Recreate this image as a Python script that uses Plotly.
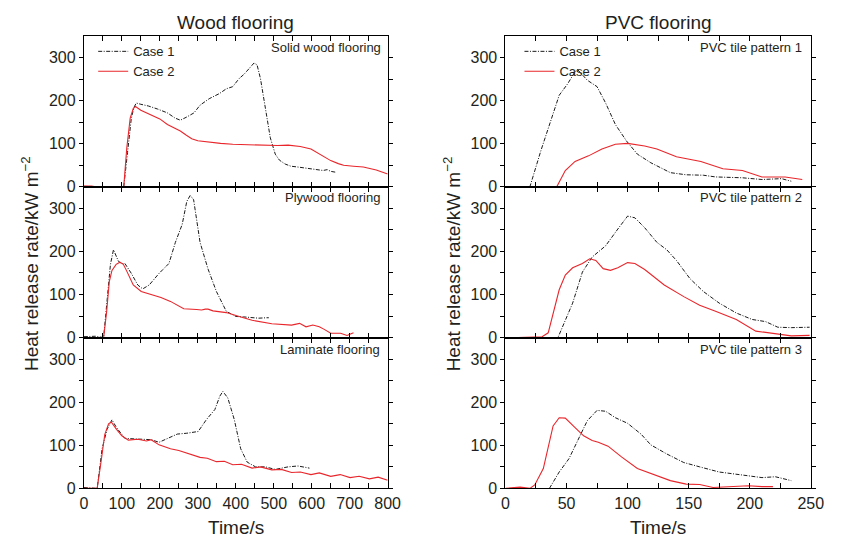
import plotly.graph_objects as go

# ---------------- data ----------------
# Wood flooring (time in s, HRR in kW m^-2)
solid_c1_t = [0, 20, 50, 80, 100, 105, 115, 125, 132, 138, 150, 170, 194, 220, 240, 254, 270, 290, 306, 330, 357, 375, 392, 409, 422, 435, 448, 456, 465, 478, 491, 504, 515, 530, 545, 564, 590, 615, 630, 641, 650, 663]
solid_c1_v = [1, 1, 0, 0, 0, 0, 80, 160, 185, 195, 192, 188, 181, 172, 160, 155, 162, 172, 190, 205, 217, 228, 233, 252, 262, 275, 288, 284, 252, 183, 114, 76, 62, 53, 48, 46, 43, 40, 38, 40, 36, 34]
solid_c2_t = [0, 20, 30, 60, 100, 105, 113, 122, 130, 136, 150, 177, 200, 220, 240, 254, 270, 284, 300, 332, 360, 392, 430, 478, 510, 538, 570, 598, 620, 650, 670, 684, 710, 736, 770, 800]
solid_c2_v = [2, 2, 0, 0, 0, 0, 90, 160, 182, 187, 178, 168, 158, 145, 137, 130, 120, 112, 107, 103, 101, 99, 98, 97, 96, 97, 94, 88, 77, 61, 54, 50, 48, 46, 39, 30]

ply_c1_t = [0, 30, 52, 60, 70, 78, 91, 100, 108, 125, 142, 155, 172, 198, 224, 241, 259, 271, 280, 289, 306, 327, 349, 375, 400, 420, 443, 460, 482, 487]
ply_c1_v = [2, 3, 0, 80, 170, 204, 177, 172, 172, 149, 122, 113, 122, 149, 172, 221, 263, 316, 330, 320, 221, 159, 107, 61, 49, 48, 47, 45, 46, 46]
ply_c2_t = [0, 52, 60, 67, 74, 85, 95, 104, 112, 130, 151, 177, 203, 228, 263, 297, 310, 320, 327, 340, 375, 409, 443, 495, 547, 568, 585, 603, 620, 633, 650, 676, 693, 710]
ply_c2_v = [0, 0, 60, 130, 156, 170, 175, 170, 156, 122, 107, 100, 93, 84, 67, 65, 64, 66, 66, 62, 58, 49, 40, 32, 29, 33, 25, 29, 25, 19, 10, 10, 5, 11]

lam_c1_t = [0, 35, 48, 61, 74, 86, 108, 142, 177, 198, 220, 246, 271, 301, 323, 345, 358, 366, 379, 396, 413, 430, 452, 478, 504, 538, 564, 594]
lam_c1_v = [2, 0, 92, 137, 159, 141, 116, 114, 113, 107, 116, 126, 128, 132, 160, 183, 214, 225, 210, 160, 92, 61, 50, 50, 44, 50, 52, 47]
lam_c2_t = [0, 35, 45, 55, 65, 72, 86, 100, 117, 142, 165, 177, 198, 228, 250, 263, 285, 306, 325, 349, 370, 392, 415, 443, 465, 495, 520, 547, 570, 598, 620, 650, 675, 701, 725, 752, 775, 800]
lam_c2_v = [0, 0, 60, 125, 150, 154, 137, 122, 112, 114, 110, 113, 101, 92, 88, 84, 78, 72, 70, 62, 63, 55, 56, 47, 50, 43, 44, 37, 38, 32, 36, 28, 32, 25, 28, 22, 26, 19]

# PVC flooring
pvc1_c1_t = [0, 20, 29, 37, 44, 51, 57, 59, 67, 75, 82, 90, 99, 108, 119, 135, 148, 162, 172, 194, 210, 226, 234]
pvc1_c1_v = [0, 0, 84, 153, 213, 240, 268, 273, 248, 233, 195, 145, 107, 76, 56, 33, 28, 27, 23, 21, 17, 19, 13]
pvc1_c2_t = [10, 42, 49, 57, 68, 79, 90, 100, 114, 124, 140, 151, 160, 178, 194, 210, 229, 243]
pvc1_c2_v = [0, 0, 38, 59, 72, 88, 99, 101, 95, 88, 70, 63, 59, 42, 38, 23, 23, 17]

pvc2_c1_t = [0, 20, 43, 55, 63, 71, 82, 92, 100, 106, 114, 124, 132, 140, 151, 162, 175, 189, 202, 213, 223, 234, 249]
pvc2_c1_v = [0, 0, 0, 80, 152, 187, 213, 252, 282, 278, 255, 221, 204, 179, 137, 107, 80, 57, 42, 37, 24, 23, 24]
pvc2_c2_t = [10, 30, 35, 44, 49, 55, 63, 69, 74, 80, 86, 92, 100, 106, 114, 130, 146, 159, 172, 189, 205, 221, 234, 249]
pvc2_c2_v = [0, 2, 11, 111, 145, 162, 172, 183, 179, 160, 156, 162, 174, 172, 158, 122, 95, 75, 61, 42, 15, 9, 4, 5]

pvc3_c1_t = [36, 44, 52, 60, 67, 75, 82, 90, 100, 111, 119, 132, 146, 159, 175, 194, 210, 221, 234]
pvc3_c1_v = [0, 38, 69, 114, 157, 181, 179, 164, 151, 126, 101, 80, 60, 50, 38, 31, 25, 27, 18]
pvc3_c2_t = [0, 12, 20, 24, 31, 39, 44, 49, 57, 64, 71, 76, 84, 95, 108, 119, 135, 148, 159, 170, 183, 199, 210, 219]
pvc3_c2_v = [0, 3, 0, 8, 46, 145, 164, 163, 141, 122, 111, 107, 98, 73, 46, 34, 18, 10, 9, 2, 4, 6, 4, 4]

panel_labels = ["Solid wood flooring", "PVC tile pattern 1",
                "Plywood flooring", "PVC tile pattern 2",
                "Laminate flooring", "PVC tile pattern 3"]
series_names = ["Case 1", "Case 2"]
col_titles = ["Wood flooring", "PVC flooring"]
x_title = "Time/s"
y_title = "Heat release rate/kW m<sup>\u22122</sup>"

panels = [
    (solid_c1_t, solid_c1_v, solid_c2_t, solid_c2_v),
    (pvc1_c1_t, pvc1_c1_v, pvc1_c2_t, pvc1_c2_v),
    (ply_c1_t, ply_c1_v, ply_c2_t, ply_c2_v),
    (pvc2_c1_t, pvc2_c1_v, pvc2_c2_t, pvc2_c2_v),
    (lam_c1_t, lam_c1_v, lam_c2_t, lam_c2_v),
    (pvc3_c1_t, pvc3_c1_v, pvc3_c2_t, pvc3_c2_v),
]

# ---------------- layout geometry ----------------
W, H = 849, 538
FONT = "Liberation Sans, Arial, Helvetica, sans-serif"
TXT = "#231f20"
BLACK_LINE = "#1a1a1a"
RED_LINE = "#e8262b"

x_dom = [[81.5 / W, 391.5 / W], [511.7 / W, 823.3 / W]]
y_px = [(37, 190), (190, 343.3), (343.3, 496.7)]
y_dom = [[1 - b / H, 1 - t / H] for (t, b) in y_px]

fig = go.Figure()
layout = dict(
    width=W, height=H,
    margin=dict(l=0, r=0, t=0, b=0),
    paper_bgcolor="white", plot_bgcolor="white",
    font=dict(family=FONT, color=TXT, size=16),
    showlegend=True,
)

for r in range(3):
    for c in range(2):
        i = r * 2 + c + 1
        sfx = "" if i == 1 else str(i)
        t1, v1, t2, v2 = panels[r * 2 + c]
        leg = "legend" if c == 0 else "legend2"
        fig.add_trace(go.Scatter(
            x=t1, y=v1, mode="lines", name=series_names[0],
            line=dict(color=BLACK_LINE, width=1, dash="4px,1.5px,1px,1.5px"),
            xaxis="x" + sfx, yaxis="y" + sfx,
            showlegend=(r == 0), legend=leg))
        fig.add_trace(go.Scatter(
            x=t2, y=v2, mode="lines", name=series_names[1],
            line=dict(color=RED_LINE, width=1.1),
            xaxis="x" + sfx, yaxis="y" + sfx,
            showlegend=(r == 0), legend=leg))
        xmax = 800 if c == 0 else 250
        xd = 100 if c == 0 else 50
        layout["xaxis" + sfx] = dict(
            domain=x_dom[c], anchor="y" + sfx, range=[0, xmax],
            showgrid=False, zeroline=False,
            showline=True, linecolor="black", linewidth=1, mirror="allticks",
            ticks="inside", ticklen=5, tickwidth=1, tickcolor="black",
            dtick=xd, tick0=0,
            minor=dict(dtick=xd / 2, ticks="inside", ticklen=5, tickcolor="black", tickwidth=1),
            showticklabels=(r == 2),
            tickfont=dict(size=16, color=TXT, family=FONT),
        )
        layout["yaxis" + sfx] = dict(
            domain=y_dom[r], anchor="x" + sfx, range=[0, 350],
            showgrid=False, zeroline=False,
            showline=True, linecolor="black", linewidth=1, mirror="allticks",
            ticks="outside", ticklen=4, tickwidth=1, tickcolor="black",
            tickvals=[0, 100, 200, 300],
            minor=dict(tickvals=[50, 150, 250], ticks="outside", ticklen=4, tickcolor="black", tickwidth=1),
            tickfont=dict(size=16, color=TXT, family=FONT),
        )

annotations = []
# panel labels (top-right in each panel)
label_pos = [(387, 48), (816.5, 48), (386, 201), (816.5, 201), (386, 355), (816.5, 355)]
for lab, (px, py) in zip(panel_labels, label_pos):
    annotations.append(dict(text=lab, x=px / W, y=1 - py / H, xref="paper", yref="paper",
                            xanchor="right", yanchor="middle", showarrow=False,
                            font=dict(size=13, color=TXT, family=FONT)))
# column titles and x titles
for c, ttl in enumerate(col_titles):
    cx = (x_dom[c][0] + x_dom[c][1]) / 2
    annotations.append(dict(text=ttl, x=cx, y=1 - 23 / H, xref="paper", yref="paper",
                            xanchor="center", yanchor="middle", showarrow=False,
                            font=dict(size=19, color=TXT, family=FONT)))
    annotations.append(dict(text=x_title, x=cx, y=1 - 536 / H, xref="paper", yref="paper",
                            xanchor="center", yanchor="middle", showarrow=False,
                            font=dict(size=19, color=TXT, family=FONT)))
# y titles
for yx in (26, 457):
    annotations.append(dict(text=y_title, x=yx / W, y=1 - 268 / H, xref="paper", yref="paper",
                            xanchor="center", yanchor="middle", showarrow=False, textangle=-90,
                            font=dict(size=19, color=TXT, family=FONT)))
layout["annotations"] = annotations

legend_common = dict(bgcolor="rgba(0,0,0,0)", borderwidth=0,
                     font=dict(size=13, color=TXT, family=FONT),
                     xanchor="left", yanchor="top", xref="paper", yref="paper",
                     itemwidth=30, tracegroupgap=0)
layout["legend"] = dict(legend_common, x=91 / W, y=1 - 37 / H)
layout["legend2"] = dict(legend_common, x=526 / W, y=1 - 37 / H)

fig.update_layout(**layout)
fig.write_html("out.html")
